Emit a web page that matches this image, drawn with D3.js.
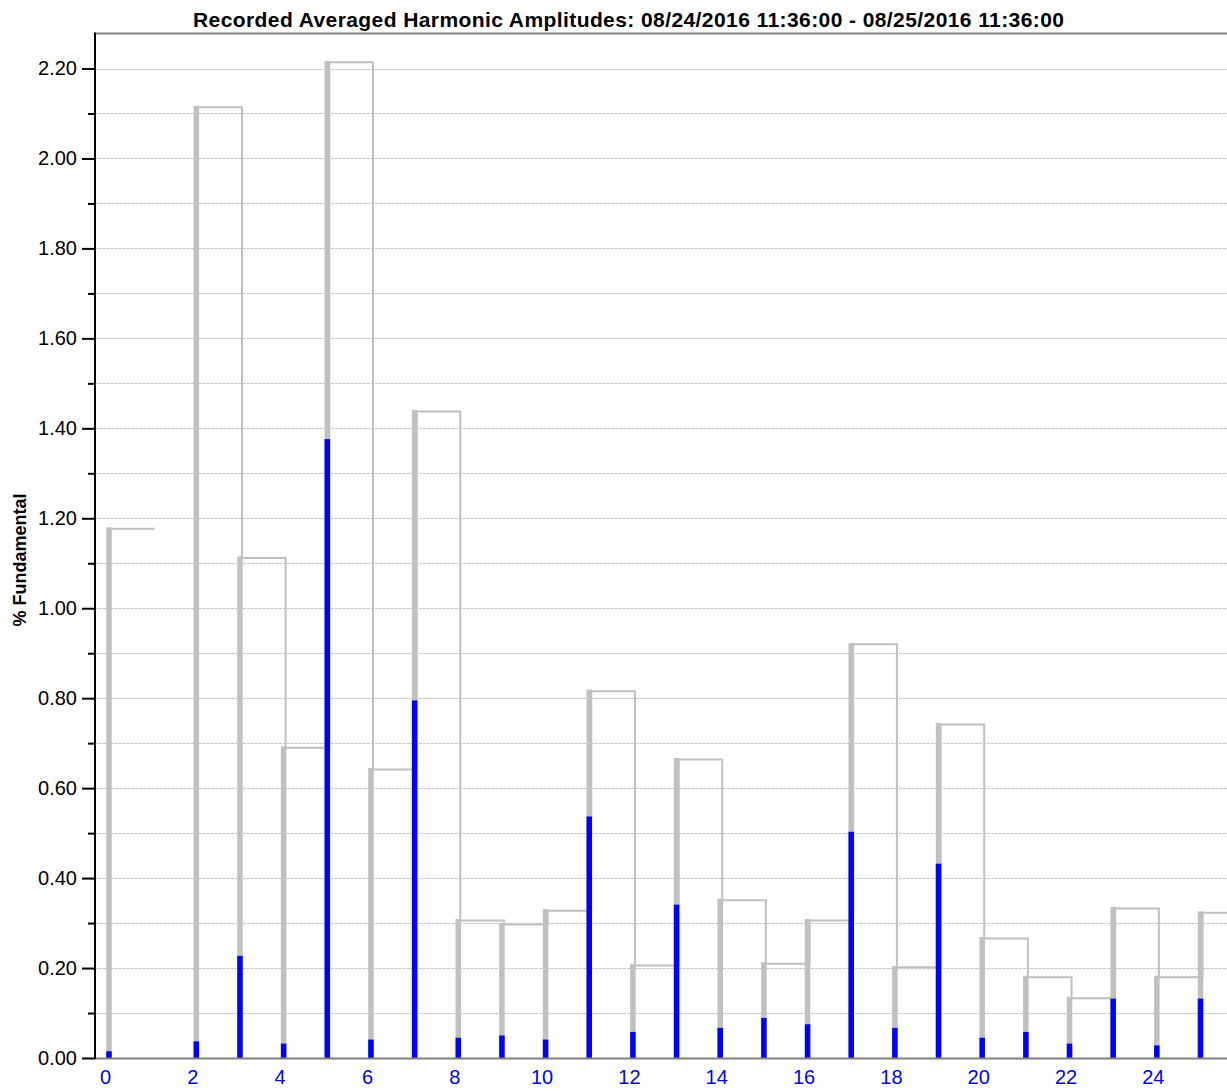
<!DOCTYPE html>
<html>
<head>
  <meta charset="UTF-8">
  <title>harmonics</title>
  <style>
  body{
    margin: 0;
    background: #fff;
  }
  svg text{
    font-family: "Liberation Sans", Arial, sans-serif;
  }
  </style>
</head>
<body>
  <script src="https://cdn.jsdelivr.net/npm/d3@7"></script>
  <script type="text/javascript">
  // harmonic numbers (fundamental 1 is not shown)
  var harmonics = [0, 2, 3, 4, 5, 6, 7, 8, 9, 10, 11, 12, 13, 14, 15, 16, 17, 18, 19, 20, 21, 22, 23, 24, 25];
  // maximum values (grey) in % of fundamental
  var maxValues = [1.180, 2.117, 1.115, 0.693, 2.217, 0.645, 1.441, 0.309, 0.300, 0.331, 0.819, 0.209, 0.667,
                   0.354, 0.213, 0.309, 0.923, 0.205, 0.745, 0.269, 0.183, 0.136, 0.336, 0.183, 0.326];
  // averaged values (blue)
  var avgValues = [0.015, 0.037, 0.227, 0.032, 1.376, 0.041, 0.795, 0.045, 0.050, 0.041, 0.537, 0.058, 0.341,
                   0.067, 0.089, 0.075, 0.503, 0.067, 0.432, 0.045, 0.058, 0.032, 0.132, 0.028, 0.132];
  var yTicks = [0, 0.2, 0.4, 0.6, 0.8, 1.0, 1.2, 1.4, 1.6, 1.8, 2.0, 2.2];
  var yMinorTicks = [0.1, 0.3, 0.5, 0.7, 0.9, 1.1, 1.3, 1.5, 1.7, 1.9, 2.1];
  var xTicks = [0, 2, 4, 6, 8, 10, 12, 14, 16, 18, 20, 22, 24];
  var title = 'Recorded Averaged Harmonic Amplitudes: 08/24/2016 11:36:00 - 08/25/2016 11:36:00';

  var width = 1227, height = 1091;
  var plotLeft = 95, plotTop = 33.5, plotBottom = 1058, plotRight = 1240;

  var svg = d3.select('body').append('svg')
    .attr('width', width)
    .attr('height', height);

  var x = d3.scaleLinear().domain([0, 25]).range([109, 1200.5]);
  var y = d3.scaleLinear().domain([0, 2.2]).range([plotBottom, 68.5]);

  var rows = harmonics.map(function(h, i){
    return {h: h, max: maxValues[i], avg: avgValues[i]};
  });

  //网格线
  svg.append('g').selectAll('line')
    .data(yMinorTicks.concat(yTicks.slice(1)))
    .enter()
    .append('line')
    .attr('x1', plotLeft).attr('x2', plotRight)
    .attr('y1', function(d){ return Math.round(y(d)) + 0.5; })
    .attr('y2', function(d){ return Math.round(y(d)) + 0.5; })
    .attr('stroke', '#c4c4c4')
    .attr('stroke-width', 1)
    .attr('stroke-dasharray', '3,1');

  //阶梯线 (max outline), split where a harmonic is missing
  var segments = [];
  var seg = [];
  rows.forEach(function(r, i){
    if (i > 0 && r.h !== rows[i - 1].h + 1) {
      seg.push({h: rows[i - 1].h + 1, max: rows[i - 1].max});
      segments.push(seg);
      seg = [];
    }
    seg.push(r);
  });
  seg.push({h: rows[rows.length - 1].h + 1, max: rows[rows.length - 1].max});
  segments.push(seg);

  var stepLine = d3.line()
    .x(function(d){ return x(d.h) + 2; })
    .y(function(d){ return y(d.max) + 1.5; })
    .curve(d3.curveStepAfter);

  svg.append('g').selectAll('path')
    .data(segments)
    .enter()
    .append('path')
    .attr('d', stepLine)
    .attr('fill', 'none')
    .attr('stroke', '#c0c0c0')
    .attr('stroke-width', 2);

  //柱
  var barW = 5.5;
  svg.append('g').selectAll('rect')
    .data(rows)
    .enter()
    .append('rect')
    .attr('x', function(d){ return x(d.h) - barW / 2; })
    .attr('y', function(d){ return y(d.max); })
    .attr('width', barW)
    .attr('height', function(d){ return plotBottom - y(d.max); })
    .attr('fill', '#c0c0c0');

  svg.append('g').selectAll('rect')
    .data(rows)
    .enter()
    .append('rect')
    .attr('x', function(d){ return x(d.h) - barW / 2; })
    .attr('y', function(d){ return y(d.avg); })
    .attr('width', barW)
    .attr('height', function(d){ return plotBottom - y(d.avg); })
    .attr('fill', '#0000ff');

  //边框
  svg.append('line')
    .attr('x1', plotLeft).attr('x2', width)
    .attr('y1', plotTop).attr('y2', plotTop)
    .attr('stroke', '#808080')
    .attr('stroke-width', 2);

  svg.append('line')
    .attr('x1', plotLeft).attr('x2', width)
    .attr('y1', plotBottom + 0.5).attr('y2', plotBottom + 0.5)
    .attr('stroke', '#808080')
    .attr('stroke-width', 2);

  //y轴
  var yAxis = d3.axisLeft(y)
    .tickValues(yTicks)
    .tickSize(13)
    .tickPadding(5)
    .tickFormat(d3.format('.2f'));

  var gy = svg.append('g')
    .attr('transform', 'translate(' + plotLeft + ',0)')
    .call(yAxis);
  gy.select('.domain').remove();
  gy.selectAll('.tick line').attr('stroke', '#000').attr('stroke-width', 2);
  gy.selectAll('.tick text')
    .attr('fill', '#000')
    .style('font-size', '20px')
    .style('font-family', '"Liberation Sans", Arial, sans-serif');

  var yMinor = d3.axisLeft(y)
    .tickValues(yMinorTicks)
    .tickSize(7)
    .tickFormat('');
  var gym = svg.append('g')
    .attr('transform', 'translate(' + plotLeft + ',0)')
    .call(yMinor);
  gym.select('.domain').remove();
  gym.selectAll('.tick line').attr('stroke', '#000').attr('stroke-width', 2);

  svg.append('line')
    .attr('x1', plotLeft).attr('x2', plotLeft)
    .attr('y1', plotTop - 1).attr('y2', plotBottom + 1)
    .attr('stroke', '#000')
    .attr('stroke-width', 2);

  //x轴
  var xAxis = d3.axisBottom(x)
    .tickValues(xTicks)
    .tickSize(0)
    .tickPadding(12)
    .tickFormat(d3.format('d'));
  var gx = svg.append('g')
    .attr('transform', 'translate(-4,' + plotBottom + ')')
    .call(xAxis);
  gx.select('.domain').remove();
  gx.selectAll('.tick text')
    .attr('fill', '#0000ff')
    .style('font-size', '20px')
    .style('font-family', '"Liberation Sans", Arial, sans-serif');

  //标题
  svg.append('text')
    .attr('x', 193)
    .attr('y', 27)
    .attr('textLength', 871)
    .attr('lengthAdjust', 'spacing')
    .style('font-size', '21px')
    .style('font-weight', 'bold')
    .attr('fill', '#000')
    .text(title);

  svg.append('text')
    .attr('transform', 'translate(26,560) rotate(-90)')
    .attr('text-anchor', 'middle')
    .style('font-size', '18px')
    .style('font-weight', 'bold')
    .attr('fill', '#000')
    .text('% Fundamental');
  </script>
</body>
</html>
